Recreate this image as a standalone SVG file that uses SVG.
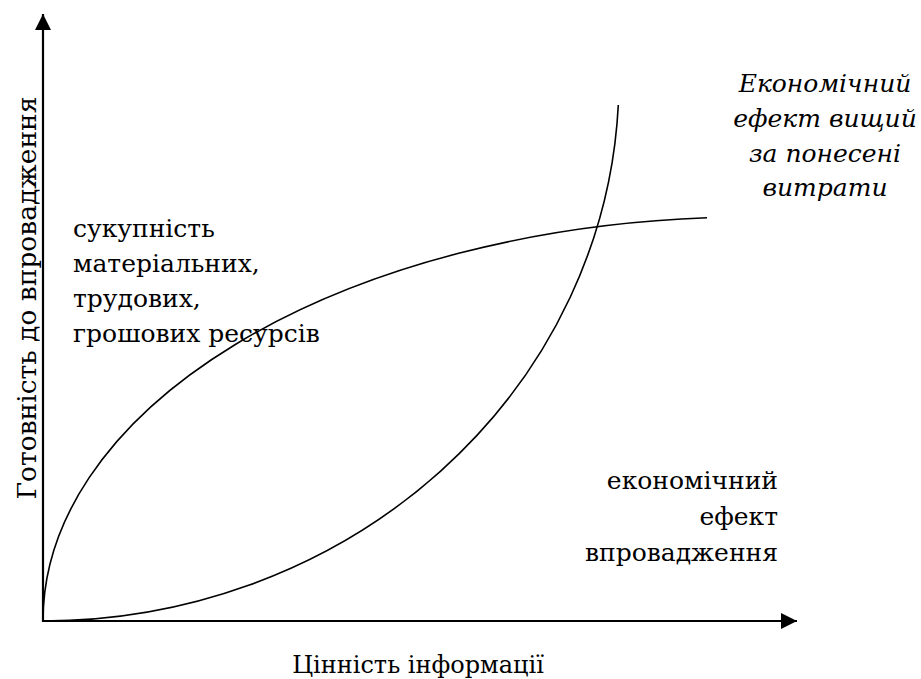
<svg xmlns="http://www.w3.org/2000/svg" width="921" height="679" viewBox="0 0 921 679">
<defs>
<marker id="arr" viewBox="0 0 10 10" refX="10" refY="5" markerWidth="16" markerHeight="16" markerUnits="userSpaceOnUse" orient="auto">
<path d="M0,0 L10,5 L0,10 z" fill="#000"/>
</marker>
</defs>
<style>
.t{font-family:"DejaVu Serif","Liberation Serif",serif;font-size:25px;fill:#000}
.it{font-style:italic}
.ax{stroke:#000;stroke-width:2.2;fill:none}
.cv{stroke:#000;stroke-width:1.6;fill:none}
</style>
<rect width="921" height="679" fill="#fff"/>
<g id="connectors">
<line class="ax" x1="43" y1="622" x2="43" y2="14" marker-end="url(#arr)"/>
<line class="ax" x1="42" y1="621" x2="797" y2="621" marker-end="url(#arr)"/>
<path id="curve-costs" class="cv" d="M43,621 A710,404 0 0 1 707,217.8"/>
<path id="curve-effect" class="cv" d="M43,621 A576,542 0 0 0 618.3,105"/>
</g>
<g id="y-label" class="t"><text transform="translate(36,298) rotate(-90)" text-anchor="middle" style="font-size:26.5px">Готовність до впровадження</text></g>
<g id="x-label" class="t"><text x="418" y="673" text-anchor="middle" style="font-size:24px">Цінність інформації</text></g>
<g id="costs-label" class="t">
<text x="73" y="237">сукупність</text>
<text x="73" y="272">матеріальних,</text>
<text x="73" y="307">трудових,</text>
<text x="73" y="342">грошових ресурсів</text>
</g>
<g id="effect-label" class="t" text-anchor="end">
<text x="778" y="489">економічний</text>
<text x="778" y="525">ефект</text>
<text x="778" y="561">впровадження</text>
</g>
<g id="higher-label" class="t it" text-anchor="middle">
<text x="825" y="92">Економічний</text>
<text x="825" y="127">ефект вищий</text>
<text x="825" y="162">за понесені</text>
<text x="825" y="196">витрати</text>
</g>
</svg>
